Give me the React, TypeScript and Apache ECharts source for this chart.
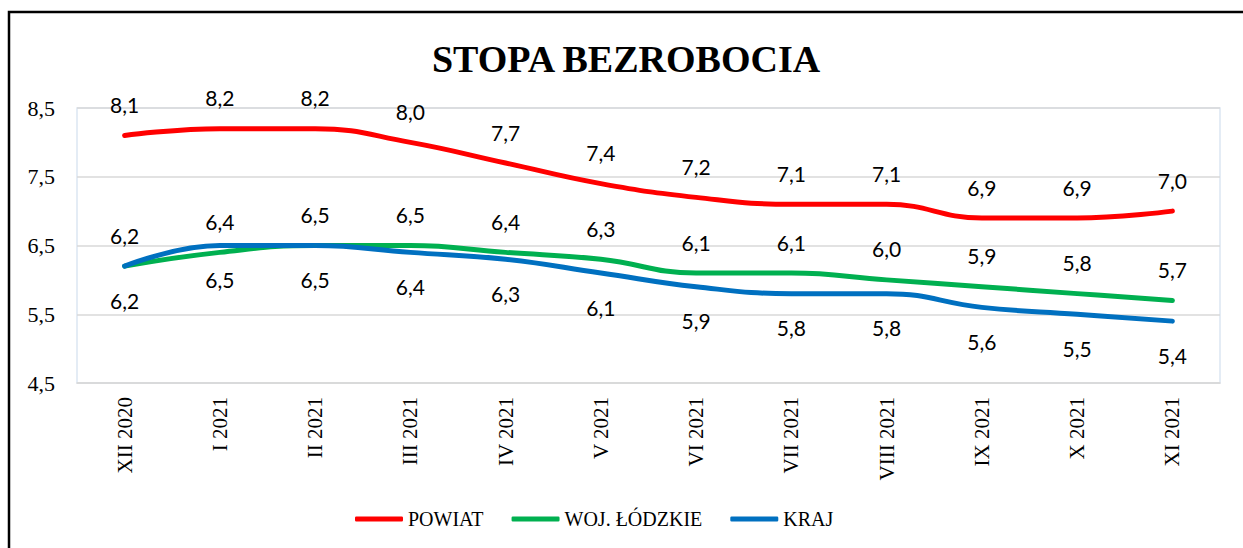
import React, { useEffect, useRef } from "react";
import * as echarts from "echarts";

const categories = ["XII 2020", "I 2021", "II 2021", "III 2021", "IV 2021", "V 2021", "VI 2021", "VII 2021", "VIII 2021", "IX 2021", "X 2021", "XI 2021"];
const powiat = [8.1, 8.2, 8.2, 8.0, 7.7, 7.4, 7.2, 7.1, 7.1, 6.9, 6.9, 7.0];
const woj = [6.2, 6.4, 6.5, 6.5, 6.4, 6.3, 6.1, 6.1, 6.0, 5.9, 5.8, 5.7];
const kraj = [6.2, 6.5, 6.5, 6.4, 6.3, 6.1, 5.9, 5.8, 5.8, 5.6, 5.5, 5.4];
const seriesNames = ["POWIAT", "WOJ. ŁÓDZKIE", "KRAJ"];
const title = "STOPA BEZROBOCIA";

const fmt = (v: number) => v.toFixed(1).replace(".", ",");
const SERIF = "'Liberation Serif', 'Times New Roman', serif";

export default function App() {
  const ref = useRef<HTMLDivElement>(null);
  useEffect(() => {
    if (!ref.current) return;
    const chart = echarts.init(ref.current, null, { renderer: "svg" });
    const labelStyle = {
      show: true,
      fontFamily: "Lato, 'Noto Sans', sans-serif",
      fontSize: 21,
      color: "#000",
      formatter: (p: any) => fmt(p.value),
    };
    const mk = (name: string, data: number[], color: string, pos: string, dist: number) => ({
      name,
      type: "line",
      data,
      smooth: 0.45,
      symbol: "circle",
      symbolSize: 1,
      showSymbol: true,
      lineStyle: { color, width: 5, cap: "round" },
      itemStyle: { color },
      label: { ...labelStyle, position: pos, distance: dist },
    });
    chart.setOption({
      animation: false,
      backgroundColor: "#fff",
      title: {
        text: title,
        left: 621,
        textAlign: "center",
        top: 35,
        textStyle: { fontFamily: SERIF, fontWeight: "bold", fontSize: 38, color: "#000" },
      },
      graphic: [
        {
          type: "rect",
          shape: { x: 9, y: 12, width: 1300, height: 600 },
          style: { fill: "none", stroke: "#000", lineWidth: 2.5 },
          silent: true,
        },
      ],
      legend: {
        data: seriesNames,
        left: 350,
        top: 504,
        itemWidth: 48,
        itemHeight: 5,
        itemGap: 28,
        icon: "roundRect",
        textStyle: { fontFamily: SERIF, fontSize: 20, color: "#000" },
      },
      grid: { left: 77, right: 23, top: 108, bottom: 165, show: true, borderColor: "#dce6f2", borderWidth: 1.5 },
      xAxis: {
        type: "category",
        data: categories,
        boundaryGap: true,
        axisLine: { lineStyle: { color: "#d9d9d9", width: 1.5 } },
        axisTick: { show: false },
        axisLabel: {
          rotate: 90,
          margin: 14,
          fontFamily: SERIF,
          fontSize: 21,
          color: "#000",
          interval: 0,
        },
      },
      yAxis: {
        type: "value",
        min: 4.5,
        max: 8.5,
        interval: 1,
        axisLine: { show: false },
        axisTick: { show: false },
        splitLine: { lineStyle: { color: "#d9d9d9", width: 1.5 } },
        axisLabel: {
          margin: 22,
          fontFamily: SERIF,
          fontSize: 22,
          color: "#000",
          formatter: (v: number) => fmt(v),
        },
      },
      series: [
        mk(seriesNames[0], powiat, "#ff0000", "top", 20),
        mk(seriesNames[1], woj, "#00b050", "top", 20),
        mk(seriesNames[2], kraj, "#0070c0", "bottom", 23),
      ],
    });
    return () => chart.dispose();
  }, []);
  return <div ref={ref} style={{ position: "absolute", left: 0, top: 0, width: 1243, height: 548 }} />;
}
